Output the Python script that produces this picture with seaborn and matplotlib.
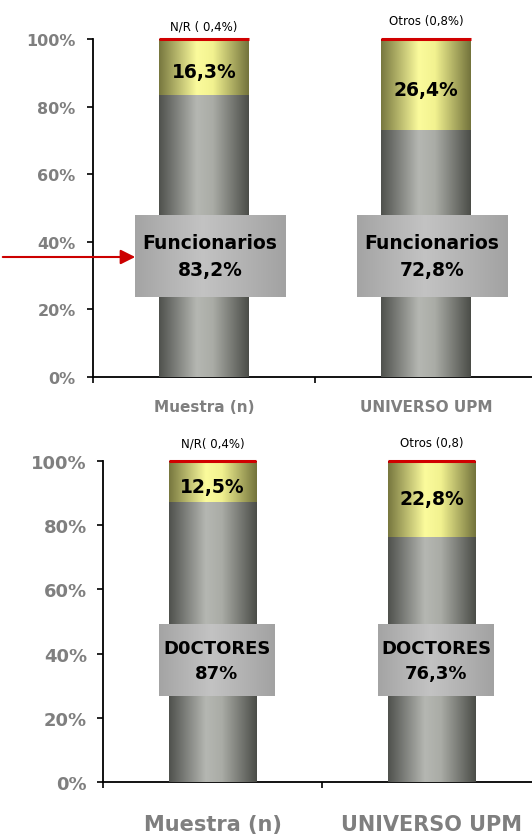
import matplotlib
matplotlib.use("Agg")
import matplotlib.pyplot as plt
from matplotlib.colors import LinearSegmentedColormap
import numpy as np
import pandas as pd
import seaborn as sns

# ---------------- data ----------------
categories = ["Muestra (n)", "UNIVERSO UPM"]

func_main = [83.2, 72.8]
func_other = [16.3, 26.4]
func_nr = [0.4, 0.8]
func_names = ["Funcionarios", "Funcionarios"]
func_top_notes = ["N/R ( 0,4%)", "Otros (0,8%)"]

doc_main = [87.0, 76.3]
doc_other = [12.5, 22.8]
doc_nr = [0.4, 0.8]
doc_names = ["D0CTORES", "DOCTORES"]
doc_top_notes = ["N/R( 0,4%)", "Otros (0,8)"]

yticks = [0, 20, 40, 60, 80, 100]

# ---------------- style ----------------
sns.set_theme(style="white")
plt.rcParams["font.family"] = ["DejaVu Sans"]

grey_cmap = LinearSegmentedColormap.from_list(
    "g", [(0, "#4f514d"), (0.42, "#b5b7b2"), (0.6, "#aaaca6"), (1, "#4b4d48")])
yellow_cmap = LinearSegmentedColormap.from_list(
    "y", [(0, "#77773f"), (0.42, "#fbfb9c"), (0.6, "#f2f290"), (1, "#73733c")])
red_cmap = LinearSegmentedColormap.from_list(
    "r", [(0, "#9b0000"), (0.45, "#ff1010"), (1, "#9b0000")])
box_cmap = LinearSegmentedColormap.from_list(
    "b", [(0, "#a4a4a4"), (0.45, "#c3c3c3"), (1, "#a2a2a2")])
grad = np.linspace(0, 1, 256).reshape(1, -1)

TICK_GREY = "#7f7f7f"


def fmt(v):
    return f"{v:g}".replace(".", ",") + "%"


def panel(ax, main, other, nr, names, notes, bw, tick_fs, cat_fs, cat_pad,
          tick_pad, box_x, box_y, name_fs, in_lab_y, note_y, note_fs):
    upper = [m + o for m, o in zip(main, other)]
    total = [u + n for u, n in zip(upper, nr)]
    df = pd.DataFrame({"cat": categories, "total": total,
                       "upper": upper, "main": main})
    layers = [("total", red_cmap), ("upper", yellow_cmap), ("main", grey_cmap)]
    for i, (col, cmap) in enumerate(layers):
        n0 = len(ax.patches)
        sns.barplot(data=df, x="cat", y=col, order=categories, ax=ax,
                    width=bw, color="grey", errorbar=None)
        for p in ax.patches[n0:]:
            x0, y0, w, h = p.get_x(), p.get_y(), p.get_width(), p.get_height()
            ax.imshow(grad, extent=[x0, x0 + w, y0, y0 + h], aspect="auto",
                      cmap=cmap, zorder=2 + i, interpolation="bilinear")
            p.set_visible(False)
            if col == "total":
                # thin red cap, kept visible even for very small shares
                ax.plot([x0, x0 + w], [y0 + h, y0 + h], color="#d00000",
                        lw=2.2, solid_capstyle="butt", zorder=7, clip_on=False)

    for j in range(len(categories)):
        ax.text(j, in_lab_y[j], fmt(other[j]), ha="center", va="center",
                fontsize=13.5, fontweight="bold", color="black", zorder=10)
        bx0, bx1 = j + box_x[0], j + box_x[1]
        ax.imshow(grad, extent=[bx0, bx1, box_y[0], box_y[1]], aspect="auto",
                  cmap=box_cmap, zorder=8, interpolation="bilinear")
        ax.text(j + (box_x[0] + box_x[1]) / 2, (box_y[0] + box_y[1]) / 2,
                f"{names[j]}\n{fmt(main[j])}", ha="center", va="center",
                fontsize=name_fs, fontweight="bold", color="black",
                linespacing=1.5, zorder=10)
        ax.text(j, note_y[j], notes[j], ha="center", va="center",
                fontsize=note_fs, color="black", clip_on=False)

    ax.set_xlim(-0.5, 1.5)
    ax.set_ylim(0, 100)
    ax.set_yticks(yticks)
    ax.set_yticklabels([f"{t}%" for t in yticks])
    ax.set_xticks(range(len(categories)))
    ax.set_xticklabels(categories)
    ax.set_xticks([-0.5, 0.5, 1.5], minor=True)
    ax.set_xlabel("")
    ax.set_ylabel("")
    for s in ["top", "right"]:
        ax.spines[s].set_visible(False)
    for s in ["left", "bottom"]:
        ax.spines[s].set_color("black")
        ax.spines[s].set_linewidth(1.3)
    ax.tick_params(axis="y", which="major", left=True, length=4.5, width=1.2,
                   color="black", pad=tick_pad, labelsize=tick_fs,
                   labelcolor=TICK_GREY)
    ax.tick_params(axis="x", which="major", bottom=False, length=0,
                   pad=cat_pad, labelsize=cat_fs, labelcolor=TICK_GREY)
    ax.tick_params(axis="x", which="minor", bottom=True, length=4.5,
                   width=1.2, color="black")
    for lab in ax.get_yticklabels() + ax.get_xticklabels():
        lab.set_fontweight("bold")


fig = plt.figure(figsize=(5.32, 8.37), dpi=100)
W, H = 532, 837

ax1 = fig.add_axes([93 / W, (H - 378) / H, (537 - 93) / W, 338 / H])
panel(ax1, func_main, func_other, func_nr, func_names, func_top_notes,
      bw=0.405, tick_fs=11.5, cat_fs=11, cat_pad=16, tick_pad=8,
      box_x=(-0.311, 0.365), box_y=(23.7, 47.9), name_fs=13.5,
      in_lab_y=[90.5, 85.2], note_y=[103.8, 105.5], note_fs=8.5)

ax2 = fig.add_axes([103 / W, (H - 783) / H, (541 - 103) / W, 321 / H])
panel(ax2, doc_main, doc_other, doc_nr, doc_names, doc_top_notes,
      bw=0.4, tick_fs=13, cat_fs=15, cat_pad=23, tick_pad=7,
      box_x=(-0.244, 0.285), box_y=(26.8, 49.2), name_fs=13,
      in_lab_y=[92.2, 88.2], note_y=[105.5, 105.8], note_fs=8.5)

fig.add_artist(matplotlib.patches.FancyArrowPatch(
    (0, 1 - 258 / H), (138 / W, 1 - 258 / H), transform=fig.transFigure,
    arrowstyle="-|>", mutation_scale=22, color="#cc0000", lw=1.5))

fig.savefig("out.png", dpi=100)
